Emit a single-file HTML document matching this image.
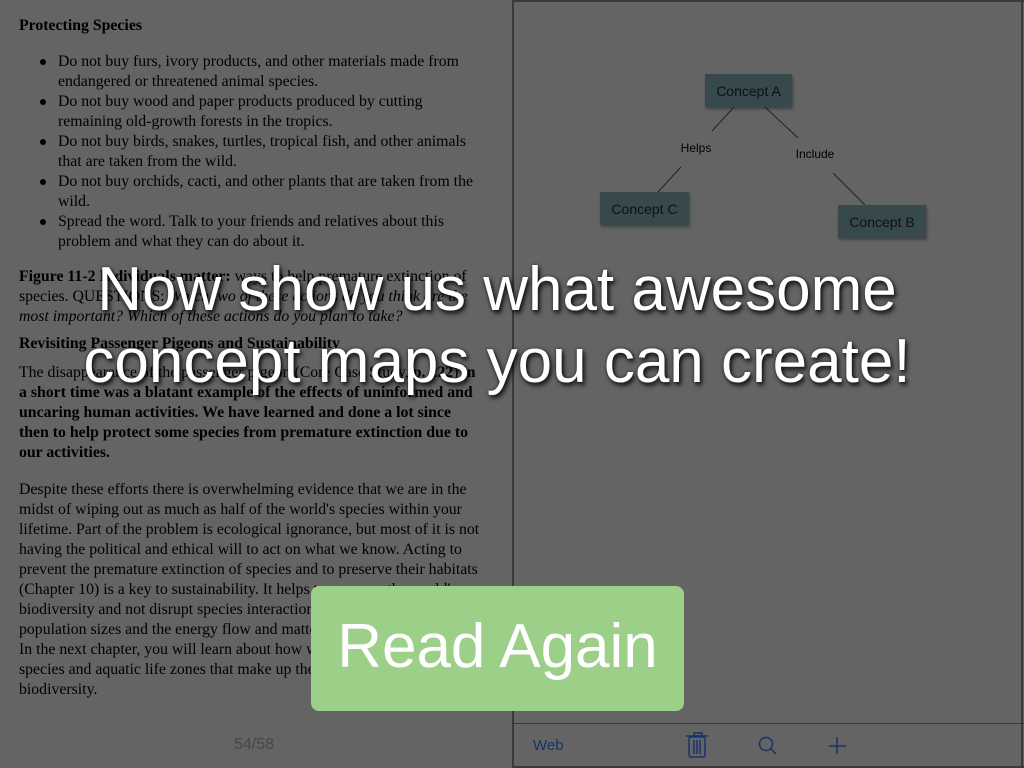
<!DOCTYPE html>
<html><head><meta charset="utf-8"><style>
body{margin:0;width:1024px;height:768px;background:#646464;position:relative;overflow:hidden;font-family:"Liberation Sans",sans-serif}
.t{position:absolute;font-family:"Liberation Serif",serif;font-size:15.8px;color:#000;white-space:nowrap;line-height:20px}
.b{font-weight:bold}.i{font-style:italic}
.d{position:absolute;left:40px;width:6px;height:6px;border-radius:50%;background:#000}
.node{position:absolute;background:#37494c;color:#0c1212;font-size:14px;display:flex;align-items:center;justify-content:center;box-shadow:1px 2px 3px rgba(0,0,0,.35)}
.lbl{position:absolute;font-size:12px;color:#000;transform:translate(-50%,-50%)}
.big{position:absolute;left:0;width:994px;text-align:center;color:#fff;font-size:62px;white-space:nowrap;text-shadow:2px 3px 5px rgba(0,0,0,.85),0 0 3px rgba(0,0,0,.5);line-height:70px}
</style></head><body>
<div class="t b" style="left:19px;top:16px">Protecting Species</div>
<div class="d" style="top:59px"></div><div class="t" style="left:58px;top:52px">Do not buy furs, ivory products, and other materials made from</div>
<div class="t" style="left:58px;top:72px">endangered or threatened animal species.</div>
<div class="d" style="top:99px"></div><div class="t" style="left:58px;top:92px">Do not buy wood and paper products produced by cutting</div>
<div class="t" style="left:58px;top:112px">remaining old-growth forests in the tropics.</div>
<div class="d" style="top:139px"></div><div class="t" style="left:58px;top:132px">Do not buy birds, snakes, turtles, tropical fish, and other animals</div>
<div class="t" style="left:58px;top:152px">that are taken from the wild.</div>
<div class="d" style="top:179px"></div><div class="t" style="left:58px;top:172px">Do not buy orchids, cacti, and other plants that are taken from the</div>
<div class="t" style="left:58px;top:192px">wild.</div>
<div class="d" style="top:219px"></div><div class="t" style="left:58px;top:212px">Spread the word. Talk to your friends and relatives about this</div>
<div class="t" style="left:58px;top:232px">problem and what they can do about it.</div>
<div class="t" style="left:19px;top:267px"><b>Figure 11-2 Individuals matter:</b> ways to help premature extinction of</div>
<div class="t" style="left:19px;top:287px">species. QUESTIONS: <i>Which two of these actions do you think are the</i></div>
<div class="t i" style="left:19px;top:307px">most important? Which of these actions do you plan to take?</div>
<div class="t b" style="left:19px;top:334px">Revisiting Passenger Pigeons and Sustainability</div>
<div class="t" style="left:19px;top:363px">The disappearance of the passenger pigeon (Core Case Study, <b>p. 222</b>) <b>in</b></div>
<div class="t b" style="left:19px;top:383px">a short time was a blatant example of the effects of uninformed and</div>
<div class="t b" style="left:19px;top:403px">uncaring human activities. We have learned and done a lot since</div>
<div class="t b" style="left:19px;top:423px">then to help protect some species from premature extinction due to</div>
<div class="t b" style="left:19px;top:443px">our activities.</div>
<div class="t" style="left:19px;top:480px">Despite these efforts there is overwhelming evidence that we are in the</div>
<div class="t" style="left:19px;top:500px">midst of wiping out as much as half of the world's species within your</div>
<div class="t" style="left:19px;top:520px">lifetime. Part of the problem is ecological ignorance, but most of it is not</div>
<div class="t" style="left:19px;top:540px">having the political and ethical will to act on what we know. Acting to</div>
<div class="t" style="left:19px;top:560px">prevent the premature extinction of species and to preserve their habitats</div>
<div class="t" style="left:19px;top:580px">(Chapter 10) is a key to sustainability. It helps to preserve the world's</div>
<div class="t" style="left:19px;top:600px">biodiversity and not disrupt species interactions that help to control</div>
<div class="t" style="left:19px;top:620px">population sizes and the energy flow and matter cycling in ecosystems.</div>
<div class="t" style="left:19px;top:640px">In the next chapter, you will learn about how we can sustain the</div>
<div class="t" style="left:19px;top:660px">species and aquatic life zones that make up the earth's aquatic</div>
<div class="t" style="left:19px;top:680px">biodiversity.</div>
<div style="position:absolute;left:234px;top:736px;font-size:16px;color:#474747">54/58</div>

<div style="position:absolute;left:512px;top:0;width:2px;height:768px;background:#3a3a3a"></div>
<div style="position:absolute;left:512px;top:0;width:512px;height:2px;background:#3a3a3a"></div>
<div style="position:absolute;left:1021px;top:0;width:2px;height:768px;background:#3a3a3a"></div>
<div style="position:absolute;left:512px;top:723px;width:512px;height:1px;background:#3a3a3a"></div>
<div style="position:absolute;left:512px;top:766px;width:512px;height:2px;background:#3a3a3a"></div>

<svg style="position:absolute;left:0;top:0" width="1024" height="768">
<g stroke="#222" stroke-width="1">
<line x1="734" y1="107" x2="712" y2="131"/><line x1="681" y1="167" x2="658" y2="192"/>
<line x1="765" y1="107" x2="798" y2="138"/><line x1="833" y1="173" x2="865" y2="205"/>
</g>
<g stroke="#17336c" stroke-width="1.5" fill="none">
<rect x="689" y="737" width="16" height="20" rx="2"/><line x1="686" y1="736" x2="708" y2="736"/><rect x="694" y="733" width="8" height="3"/>
<line x1="694" y1="740" x2="694" y2="754"/><line x1="697" y1="740" x2="697" y2="754"/><line x1="700" y1="740" x2="700" y2="754"/>
<circle cx="766" cy="744" r="6.5"/><line x1="771" y1="749" x2="776" y2="754"/>
<line x1="837" y1="737" x2="837" y2="754"/><line x1="829" y1="746" x2="846" y2="746"/>
</g>
</svg>
<div class="node" style="left:705px;top:74px;width:87px;height:33px">Concept A</div>
<div class="node" style="left:600px;top:192px;width:89px;height:33px">Concept C</div>
<div class="node" style="left:838px;top:205px;width:88px;height:33px">Concept B</div>
<div class="lbl" style="left:696px;top:148px">Helps</div>
<div class="lbl" style="left:815px;top:154px">Include</div>
<div style="position:absolute;left:533px;top:737px;font-size:15px;color:#17336c">Web</div>

<div class="big" style="top:255px">Now show us what awesome</div>
<div class="big" style="top:327px">concept maps you can create!</div>
<div style="position:absolute;left:311px;top:586px;width:373px;height:125px;background:#9ccf87;border-radius:8px;color:#fff;font-size:62px;text-align:center;line-height:122px">Read Again</div>
</body></html>
